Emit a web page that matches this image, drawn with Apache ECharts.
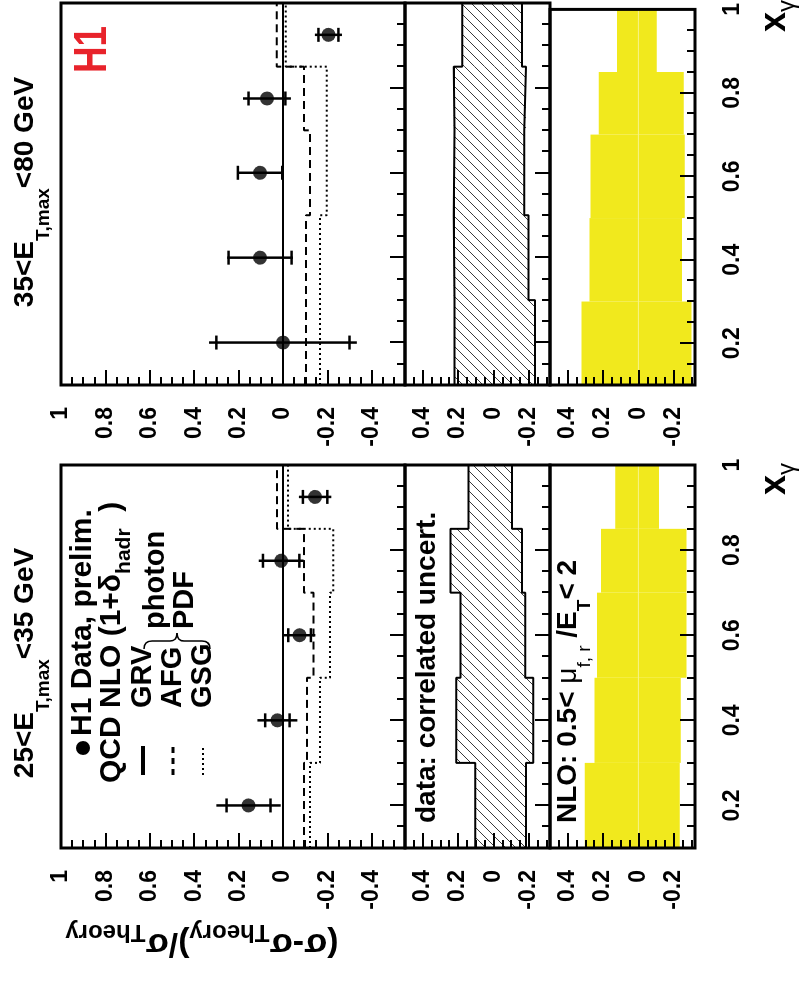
<!DOCTYPE html>
<html>
<head>
<meta charset="utf-8">
<script src="https://cdn.jsdelivr.net/npm/echarts@6.0.0/dist/echarts.min.js"></script>
<style>
  html, body { margin: 0; padding: 0; background: #fff; overflow: hidden; }
  /* the plot is built landscape and turned a quarter turn, like the original figure */
  #wrap {
    position: absolute; left: 0; top: 0; width: 982px; height: 799px;
    transform-origin: 0 0; transform: translate(0, 982px) rotate(-90deg);
  }
  #chart { width: 982px; height: 799px; }
</style>
</head>
<body>
<div id="wrap"><div id="chart"></div></div>
<script>
// ---- data ----
const binEdges = [0.1, 0.3, 0.5, 0.7, 0.85, 1.0];
const binCentres = [0.2, 0.4, 0.6, 0.775, 0.925];

// 25 < ET,max < 35 GeV
const lowData = [0.155, 0.025, -0.075, 0.008, -0.145];
const lowStat = [0.099, 0.055, 0.051, 0.082, 0.055];
const lowTot = [0.145, 0.09, 0.071, 0.101, 0.073];
const lowGRV = [0, 0, 0, 0, 0];
const lowAFG = [-0.095, -0.108, -0.138, -0.095, 0.027];
const lowGSG = [-0.122, -0.167, -0.212, -0.227, -0.023];
const lowCorrHi = [0.103, 0.21, 0.186, 0.242, 0.141];
const lowCorrLo = [-0.184, -0.225, -0.18, -0.162, -0.105];
const lowScaleHi = [0.303, 0.249, 0.234, 0.211, 0.131];
const lowScaleLo = [-0.234, -0.24, -0.272, -0.272, -0.116];

// 35 < ET,max < 80 GeV
const highData = [0.0, 0.103, 0.103, 0.072, -0.205];
const highStat = [0.30, 0.142, 0.10, 0.083, 0.045];
const highTot = [0.333, 0.148, 0.104, 0.108, 0.061];
const highGRV = [0, 0, 0, 0, 0];
const highAFG = [-0.104, -0.104, -0.122, -0.095, 0.028];
const highGSG = [-0.167, -0.167, -0.197, -0.197, -0.013];
const highCorrHi = [0.22, 0.225, 0.22, 0.225, 0.176];
const highCorrLo = [-0.235, -0.199, -0.175, -0.184, -0.162];
const highScaleHi = [0.322, 0.277, 0.271, 0.225, 0.121];
const highScaleLo = [-0.30, -0.247, -0.262, -0.257, -0.103];

// tick values
const xMajorTicks = [0.2, 0.4, 0.6, 0.8, 1.0];
const xMinorTicks = [0.1, 0.15, 0.25, 0.3, 0.35, 0.45, 0.5, 0.55, 0.65, 0.7, 0.75, 0.85, 0.9, 0.95];
const mainMajorTicks = [-0.4, -0.2, 0, 0.2, 0.4, 0.6, 0.8, 1.0];
const mainMinorTicks = [-0.55, -0.5, -0.45, -0.35, -0.3, -0.25, -0.15, -0.1, -0.05, 0.05, 0.1, 0.15,
  0.25, 0.3, 0.35, 0.45, 0.5, 0.55, 0.65, 0.7, 0.75, 0.85, 0.9, 0.95];
const subMajorTicks = [-0.2, 0, 0.2, 0.4];
const subMinorTicks = [-0.3, -0.25, -0.15, -0.1, -0.05, 0.05, 0.1, 0.15, 0.25, 0.3, 0.35, 0.45, 0.5];

const FONT = "'Liberation Sans', Arial, Helvetica, sans-serif";
const YELLOW = '#f1e91d';

// hatch pattern for the correlated uncertainty band
const hatch = document.createElement('canvas');
hatch.width = 10; hatch.height = 10;
const hc = hatch.getContext('2d');
hc.strokeStyle = '#3a3a3a'; hc.lineWidth = 1;
hc.beginPath();
hc.moveTo(0, 10); hc.lineTo(10, 0);
hc.moveTo(-5, 5); hc.lineTo(5, -5);
hc.moveTo(5, 15); hc.lineTo(15, 5);
hc.stroke();

// layout of the six pads (landscape coords, before the turn)
const colLeft = [134, 597];
const colWidth = [383, 382];
const rowTop = [61, 405, 550];
const rowHeight = [344, 145, 145];

const grids = [];
const xAxes = [];
const yAxes = [];
const fmt = v => String(+(+v).toFixed(2));

function tickAxis(gi, isX, range, ticks, len, labels) {
  return {
    type: 'value', gridIndex: gi, min: range[0], max: range[1],
    position: isX ? 'bottom' : 'left', z: 5,
    axisLine: { show: false, onZero: false },
    splitLine: { show: false },
    axisTick: { show: true, inside: true, length: len, customValues: ticks,
      lineStyle: { color: '#000', width: 2 } },
    axisLabel: labels ? {
      show: true, customValues: labels, formatter: fmt, margin: isX ? 26 : 22,
      color: '#000', fontFamily: FONT, fontWeight: 'bold', fontSize: 23
    } : { show: false }
  };
}

for (let c = 0; c < 2; c++) {
  for (let r = 0; r < 3; r++) {
    const gi = c * 3 + r;
    grids.push({ left: colLeft[c], top: rowTop[r], width: colWidth[c], height: rowHeight[r],
      show: true, borderColor: '#000', borderWidth: 3, backgroundColor: 'transparent', z: 10 });
    const yRange = r === 0 ? [-0.55, 1] : [-0.32, 0.5];
    xAxes.push(tickAxis(gi, true, [0.1, 1], xMinorTicks, 8, null));
    xAxes.push(tickAxis(gi, true, [0.1, 1], xMajorTicks, 15, r === 2 ? xMajorTicks : null));
    yAxes.push(tickAxis(gi, false, yRange, r === 0 ? mainMinorTicks : subMinorTicks, 8, null));
    yAxes.push(tickAxis(gi, false, yRange, r === 0 ? mainMajorTicks : subMajorTicks, 15,
      r === 0 ? mainMajorTicks : subMajorTicks));
  }
}

const stepData = vals => binEdges.map((e, i) => [e, vals[Math.min(i, vals.length - 1)]]);
const binData = (lo, hi) => lo.map((v, i) => [binEdges[i], binEdges[i + 1], v, hi[i]]);

function errorBars(params, api) {
  const x = api.value(0), y = api.value(1), st = api.value(2), tot = api.value(3);
  const a = api.coord([x, y + tot]), b = api.coord([x, y - tot]);
  const s1 = api.coord([x, y + st]), s2 = api.coord([x, y - st]);
  const h = 7, ls = { stroke: '#000', lineWidth: 2.5 };
  return { type: 'group', children: [
    { type: 'line', shape: { x1: a[0], y1: a[1], x2: b[0], y2: b[1] }, style: ls },
    { type: 'line', shape: { x1: s1[0] - h, y1: s1[1], x2: s1[0] + h, y2: s1[1] }, style: ls },
    { type: 'line', shape: { x1: s2[0] - h, y1: s2[1], x2: s2[0] + h, y2: s2[1] }, style: ls }
  ] };
}

function bandItem(fill) {
  return function (params, api) {
    const p1 = api.coord([api.value(0), api.value(3)]);
    const p2 = api.coord([api.value(1), api.value(2)]);
    return { type: 'rect', shape: { x: p1[0], y: p1[1], width: p2[0] - p1[0], height: p2[1] - p1[1] },
      style: { fill: fill, stroke: null } };
  };
}

const series = [];
const columns = [
  { data: lowData, stat: lowStat, tot: lowTot, grv: lowGRV, afg: lowAFG, gsg: lowGSG,
    cHi: lowCorrHi, cLo: lowCorrLo, sHi: lowScaleHi, sLo: lowScaleLo },
  { data: highData, stat: highStat, tot: highTot, grv: highGRV, afg: highAFG, gsg: highGSG,
    cHi: highCorrHi, cLo: highCorrLo, sHi: highScaleHi, sLo: highScaleLo }
];

columns.forEach((col, c) => {
  const gMain = c * 3, gCorr = c * 3 + 1, gNlo = c * 3 + 2;
  const ax = g => ({ xAxisIndex: 2 * g, yAxisIndex: 2 * g });
  const theory = (vals, type, width) => Object.assign({
    type: 'line', step: 'end', symbol: 'none', silent: true, z: 3,
    data: stepData(vals), lineStyle: { color: '#000', width: width, type: type }
  }, ax(gMain));
  series.push(theory(col.grv, 'solid', 2));
  series.push(theory(col.afg, [8, 5], 2));
  series.push(theory(col.gsg, [2, 3], 2));
  series.push(Object.assign({
    type: 'custom', renderItem: errorBars, z: 4, clip: true,
    data: binCentres.map((x, i) => [x, col.data[i], col.stat[i], col.tot[i]])
  }, ax(gMain)));
  series.push(Object.assign({
    type: 'scatter', symbol: 'circle', symbolSize: 14, z: 4,
    itemStyle: { color: '#000' },
    data: binCentres.map((x, i) => [x, col.data[i]])
  }, ax(gMain)));

  // correlated uncertainty: hatched band with a black outline
  series.push(Object.assign({
    type: 'custom', renderItem: bandItem({ image: hatch, repeat: 'repeat' }), z: 2, clip: true,
    data: binData(col.cLo, col.cHi)
  }, ax(gCorr)));
  [col.cHi, col.cLo].forEach(v => series.push(Object.assign({
    type: 'line', step: 'end', symbol: 'none', silent: true, z: 3,
    data: stepData(v), lineStyle: { color: '#000', width: 2 }
  }, ax(gCorr))));

  // NLO scale uncertainty: yellow band
  series.push(Object.assign({
    type: 'custom', renderItem: bandItem(YELLOW), z: 2, clip: true,
    data: binData(col.sLo, col.sHi)
  }, ax(gNlo)));
  series.push(Object.assign({
    type: 'line', symbol: 'none', silent: true, z: 3,
    data: [[binEdges[0], 0], [binEdges[binEdges.length - 1], 0]],
    lineStyle: { color: '#f7f38c', width: 1 }
  }, ax(gNlo)));
});

// ---- texts and legend ----
const bold = (size, extra) => Object.assign({ fontSize: size, fontWeight: 'bold', fontFamily: FONT, fill: '#000' }, extra || {});
function richText(x, y, text, rich, align, rotation) {
  return { type: 'text', x: x, y: y, rotation: rotation || 0, z: 20,
    style: { text: text, rich: rich, align: align, verticalAlign: 'middle', fill: '#000', fontFamily: FONT } };
}
const titleRich = {
  m: bold(28, { lineHeight: 56, verticalAlign: 'middle' }),
  s: bold(19, { lineHeight: 19, verticalAlign: 'bottom' })
};
const xTitleRich = {
  m: bold(36, { lineHeight: 48, verticalAlign: 'middle' }),
  s: { fontSize: 24, fontFamily: FONT, fill: '#000', lineHeight: 24, verticalAlign: 'bottom' }
};
const braceLine = (x1, y1, x2, y2, cx, cy) => ({
  type: 'bezierCurve', z: 20,
  shape: { x1: x1, y1: y1, x2: x2, y2: y2, cpx1: cx, cpy1: cy },
  style: { stroke: '#000', lineWidth: 1.5, fill: null }
});

const graphics = [
  richText(319, 25, '{m|25<E}{s|T,max}{m|<35 GeV}', titleRich, 'center'),
  richText(790, 25, '{m|35<E}{s|T,max}{m|<80 GeV}', titleRich, 'center'),
  richText(519, 775, '{m|x}{s|γ}', xTitleRich, 'right'),
  richText(982, 775, '{m|x}{s|γ}', xTitleRich, 'right'),
  richText(39, 202, '{m|(σ-σ}{s|Theory}{m|)/σ}{s|Theory}', {
    m: bold(34, { lineHeight: 46, verticalAlign: 'middle' }),
    s: bold(24, { lineHeight: 24, verticalAlign: 'bottom' })
  }, 'center', Math.PI / 2),
  { type: 'text', x: 909, y: 93, scaleX: 0.8, z: 20,
    style: Object.assign(bold(46), { text: 'H1', fill: '#e8232b', align: 'left', verticalAlign: 'middle' }) },

  // legend
  { type: 'circle', z: 20, shape: { cx: 234, cy: 83, r: 7 }, style: { fill: '#000' } },
  { type: 'text', x: 246, y: 83, z: 20, style: Object.assign(bold(30), { text: 'H1 Data, prelim.', verticalAlign: 'middle' }) },
  richText(199, 112, '{m|QCD NLO (1+δ}{s|hadr}{m|  )}', {
    m: bold(30, { lineHeight: 46, verticalAlign: 'middle' }),
    s: bold(21, { lineHeight: 21, verticalAlign: 'bottom' })
  }, 'left'),
  { type: 'line', z: 20, shape: { x1: 207, y1: 143, x2: 236, y2: 143 }, style: { stroke: '#000', lineWidth: 4 } },
  { type: 'line', z: 20, shape: { x1: 207, y1: 173, x2: 236, y2: 173 }, style: { stroke: '#000', lineWidth: 3, lineDash: [6, 5] } },
  { type: 'line', z: 20, shape: { x1: 207, y1: 203, x2: 236, y2: 203 }, style: { stroke: '#000', lineWidth: 2, lineDash: [2, 3] } },
  { type: 'text', x: 274, y: 143, z: 20, style: Object.assign(bold(29), { text: 'GRV', verticalAlign: 'middle' }) },
  { type: 'text', x: 274, y: 173, z: 20, style: Object.assign(bold(29), { text: 'AFG', verticalAlign: 'middle' }) },
  { type: 'text', x: 274, y: 203, z: 20, style: Object.assign(bold(29), { text: 'GSG', verticalAlign: 'middle' }) },
  braceLine(333, 144, 341, 152, 341, 144),
  { type: 'line', z: 20, shape: { x1: 341, y1: 152, x2: 341, y2: 170 }, style: { stroke: '#000', lineWidth: 1.5 } },
  braceLine(341, 170, 349, 177, 341, 177),
  braceLine(349, 177, 341, 184, 341, 177),
  { type: 'line', z: 20, shape: { x1: 341, y1: 184, x2: 341, y2: 202 }, style: { stroke: '#000', lineWidth: 1.5 } },
  braceLine(341, 202, 333, 210, 341, 210),
  { type: 'text', x: 353, y: 156, z: 20, style: Object.assign(bold(29), { text: 'photon', verticalAlign: 'middle' }) },
  { type: 'text', x: 353, y: 185, z: 20, style: Object.assign(bold(29), { text: 'PDF', verticalAlign: 'middle' }) },

  { type: 'text', x: 159, y: 427, z: 20, style: Object.assign(bold(28), { text: 'data: correlated uncert.', verticalAlign: 'middle' }) },
  richText(159, 568, '{m|NLO: 0.5< }{g|μ}{t|f, r}{m| /E}{s|T}{m|< 2}', {
    m: bold(28, { lineHeight: 52, verticalAlign: 'middle' }),
    g: { fontSize: 28, fontFamily: FONT, fill: '#000', lineHeight: 52, verticalAlign: 'middle' },
    t: { fontSize: 19, fontFamily: FONT, fill: '#000', lineHeight: 19, verticalAlign: 'bottom' },
    s: bold(19, { lineHeight: 19, verticalAlign: 'bottom' })
  }, 'left')
];

const chart = echarts.init(document.getElementById('chart'), null, { renderer: 'canvas' });
chart.setOption({
  backgroundColor: '#fff',
  animation: false,
  grid: grids,
  xAxis: xAxes,
  yAxis: yAxes,
  series: series,
  graphic: graphics
});
</script>
</body>
</html>
